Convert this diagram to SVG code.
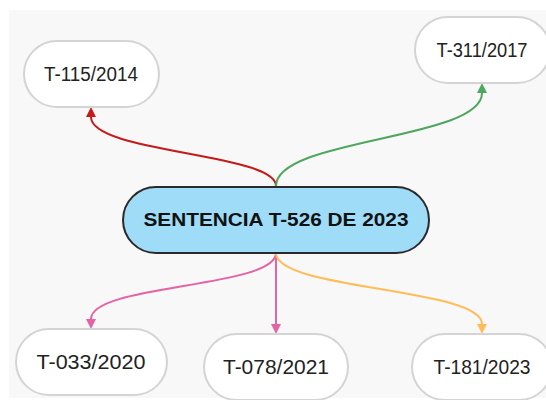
<svg xmlns="http://www.w3.org/2000/svg" width="546" height="400" viewBox="0 0 546 400">
<style>
.node{fill:#ffffff;stroke:#d4d4d4;stroke-width:2}
.central{fill:#9fdcf8;stroke:#2a2a2a;stroke-width:2}
.lbl{font-family:"Liberation Sans",Arial,sans-serif;font-size:20px;fill:#222;text-anchor:middle}
.clbl{font-family:"Liberation Sans",Arial,sans-serif;font-size:19px;font-weight:bold;fill:#111;text-anchor:middle}
.edge{fill:none;stroke-width:2}
</style>
<defs>
<marker id="aRed" viewBox="0 0 10 10" refX="0" refY="5" markerWidth="10" markerHeight="11" markerUnits="userSpaceOnUse" orient="auto"><path d="M0,0 L10,5 L0,10 z" fill="#c51a1a"/></marker>
<marker id="aGreen" viewBox="0 0 10 10" refX="0" refY="5" markerWidth="10" markerHeight="11" markerUnits="userSpaceOnUse" orient="auto"><path d="M0,0 L10,5 L0,10 z" fill="#4ea65f"/></marker>
<marker id="aPink" viewBox="0 0 10 10" refX="0" refY="5" markerWidth="10" markerHeight="11" markerUnits="userSpaceOnUse" orient="auto"><path d="M0,0 L10,5 L0,10 z" fill="#e463a3"/></marker>
<marker id="aOrange" viewBox="0 0 10 10" refX="0" refY="5" markerWidth="10" markerHeight="11" markerUnits="userSpaceOnUse" orient="auto"><path d="M0,0 L10,5 L0,10 z" fill="#ffbd59"/></marker>
</defs>
<rect x="0" y="0" width="546" height="400" fill="#ffffff"/>
<rect x="9" y="10" width="537" height="388" fill="#f8f8f8"/>
<g id="connectors">
<path class="edge" stroke="#c51a1a" d="M276,186 C276,153 91,153 91,117" marker-end="url(#aRed)"/>
<path class="edge" stroke="#4ea65f" d="M276,186 C276,138 482,140 482,93" marker-end="url(#aGreen)"/>
<path class="edge" stroke="#e463a3" d="M276,253 C276,288 91,284 91,319" marker-end="url(#aPink)"/>
<path class="edge" stroke="#e463a3" d="M276,253 L276,324" marker-end="url(#aPink)"/>
<path class="edge" stroke="#ffbd59" d="M276,253 C276,290 482,288 482,324" marker-end="url(#aOrange)"/>
</g>
<g id="n-central">
<rect class="central" x="123" y="187" width="306" height="66" rx="33"/>
<text class="clbl" x="276" y="226" textLength="265" lengthAdjust="spacingAndGlyphs">SENTENCIA T-526 DE 2023</text>
</g>
<g id="n-t115">
<rect class="node" x="24" y="41" width="135" height="66" rx="33"/>
<text class="lbl" x="91" y="81" textLength="94" lengthAdjust="spacingAndGlyphs">T-115/2014</text>
</g>
<g id="n-t311">
<rect class="node" x="415" y="17" width="135" height="66" rx="33"/>
<text class="lbl" x="482" y="57" textLength="91" lengthAdjust="spacingAndGlyphs">T-311/2017</text>
</g>
<g id="n-t033">
<rect class="node" x="16" y="329" width="151" height="66" rx="33"/>
<text class="lbl" x="91" y="369" textLength="109" lengthAdjust="spacingAndGlyphs">T-033/2020</text>
</g>
<g id="n-t078">
<rect class="node" x="204" y="334" width="144" height="66" rx="33"/>
<text class="lbl" x="276" y="374" textLength="106" lengthAdjust="spacingAndGlyphs">T-078/2021</text>
</g>
<g id="n-t181">
<rect class="node" x="412" y="334" width="140" height="66" rx="33"/>
<text class="lbl" x="482" y="374" textLength="97" lengthAdjust="spacingAndGlyphs">T-181/2023</text>
</g>
</svg>
